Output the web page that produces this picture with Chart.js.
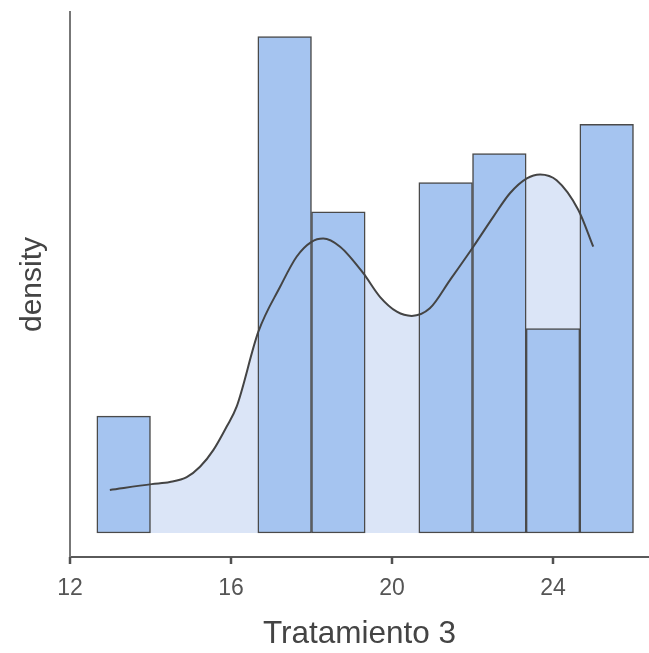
<!DOCTYPE html>
<html>
<head>
<meta charset="utf-8">
<script src="https://cdn.jsdelivr.net/npm/chart.js@4"></script>
<style>
  html, body { margin: 0; padding: 0; background: #fff; }
  #wrap { width: 649px; height: 653px; }
</style>
</head>
<body>
<div id="wrap"><canvas id="hist"></canvas></div>
<script>
// histogram bins (width 4/3), centers and density per bin
const binCenters = [13.333, 14.667, 16.0, 17.333, 18.667, 20.0, 21.333, 22.667, 24.0, 25.333];
const binDensity = [0.0385, 0, 0, 0.1635, 0.1058, 0, 0.1154, 0.125, 0.0673, 0.1346];

// kernel density curve
const kdeX = [12.99, 14.03, 14.48, 14.90, 15.23, 15.56, 15.89, 16.14, 16.68, 17.22, 17.63, 18.0, 18.29,
  18.71, 19.29, 19.70, 20.12, 20.49, 20.94, 21.44, 22.02, 22.52, 22.93, 23.35, 23.68, 24.09, 24.63, 25.0];
const kdeY = [0.0142, 0.0161, 0.0168, 0.0184, 0.0218, 0.0273, 0.0350, 0.0416, 0.0663, 0.0811, 0.0910, 0.0959, 0.0970,
  0.0943, 0.0855, 0.0778, 0.0729, 0.0715, 0.0740, 0.0833, 0.0943, 0.1042, 0.1119, 0.1168, 0.1181, 0.1162, 0.1064, 0.0943];

const xTicks = [12, 16, 20, 24];

// short tick marks under the x axis line
const tickMarks = {
  id: 'tickMarks',
  afterDraw(chart) {
    const sc = chart.scales.x;
    const c = chart.ctx;
    c.save();
    c.strokeStyle = '#505050';
    c.lineWidth = 2.5;
    xTicks.forEach(v => {
      const px = Math.round(sc.getPixelForValue(v));
      c.beginPath();
      c.moveTo(px, sc.top);
      c.lineTo(px, sc.top + 7);
      c.stroke();
    });
    c.restore();
  }
};

function drawChart() {
  const ctx = document.getElementById('hist').getContext('2d');
  new Chart(ctx, {
    data: {
      datasets: [
        {
          type: 'line',
          data: kdeX.map((x, i) => ({ x: x, y: kdeY[i] })),
          borderColor: '#444444',
          borderWidth: 2,
          backgroundColor: '#dbe5f7',
          fill: 'origin',
          pointRadius: 0,
          cubicInterpolationMode: 'monotone',
          order: 0
        },
        {
          type: 'bar',
          data: binCenters.map((x, i) => ({ x: x, y: binDensity[i] })),
          backgroundColor: '#a5c4f0',
          borderColor: '#4a4a4a',
          borderWidth: 1.5,
          borderSkipped: false,
          barPercentage: 1.0,
          categoryPercentage: 1.0,
          order: 1
        }
      ]
    },
    options: {
      responsive: true,
      maintainAspectRatio: false,
      animation: false,
      layout: { padding: { top: 12, right: 0, left: 0, bottom: 0 } },
      plugins: {
        legend: { display: false },
        tooltip: { enabled: false },
        filler: { drawTime: 'beforeDatasetsDraw' }
      },
      scales: {
        x: {
          type: 'linear',
          min: 12,
          max: 26.385,
          offset: false,
          afterFit: (scale) => { scale.height = 96; },
          grid: { display: false },
          border: { display: true, color: '#5a5a5a', width: 2 },
          ticks: {
            stepSize: 4,
            includeBounds: false,
            callback: (v) => xTicks.includes(v) ? String(v) : '',
            color: '#555',
            font: { family: 'Liberation Sans', size: 23 },
            padding: 10,
            maxRotation: 0,
            autoSkip: false
          },
          title: {
            display: true,
            text: 'Tratamiento 3',
            color: '#444',
            font: { family: 'Liberation Sans', size: 31.5 },
            padding: { top: 0, bottom: 0 }
          }
        },
        y: {
          min: -0.0079,
          max: 0.1716,
          afterFit: (scale) => { scale.width = 70; },
          grid: { display: false },
          border: { display: true, color: '#777', width: 2 },
          ticks: { display: false },
          title: {
            display: true,
            text: 'density',
            color: '#444',
            font: { family: 'Liberation Sans', size: 30 },
            padding: { top: 15, bottom: 0 }
          }
        }
      }
    },
    plugins: [tickMarks]
  });
}

document.addEventListener('DOMContentLoaded', drawChart);
</script>
</body>
</html>
